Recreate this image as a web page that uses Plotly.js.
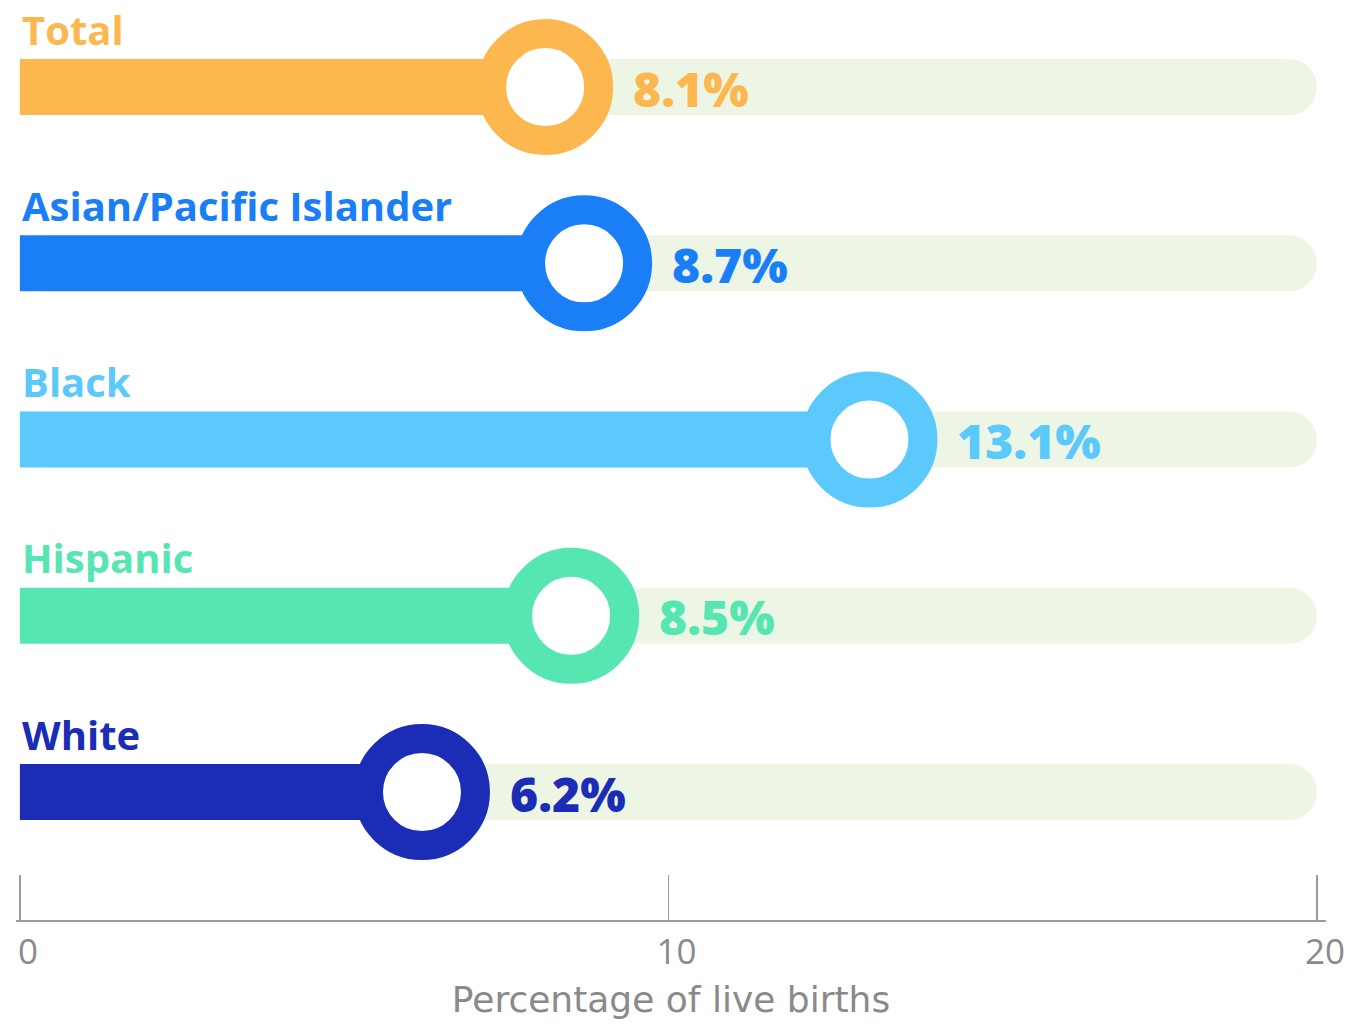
<!DOCTYPE html>
<html>
<head>
<meta charset="utf-8">
<script src="https://cdn.plot.ly/plotly-3.0.1.min.js"></script>
<style>
html,body{margin:0;padding:0;background:#fff;}
#chart{width:1370px;height:1024px;}
</style>
</head>
<body>
<div id="chart"></div>
<script>
// Data
const categories = ["Total", "Asian/Pacific Islander", "Black", "Hispanic", "White"];
const values = [8.1, 8.7, 13.1, 8.5, 6.2];
const valueLabels = ["8.1%", "8.7%", "13.1%", "8.5%", "6.2%"];
const scaleMax = 20;
const tickValues = [0, 10, 20];
const tickLabels = ["0", "10", "20"];
const axisTitle = "Percentage of live births";

// Styles
const colors = ["#FDB74F", "#1A7FF6", "#5BC9FC", "#56E6B2", "#1B2CB6"];
const trackColor = "#EDF5E4";
const barWidth = 0.318;

const traces = [
  {
    type: "bar", orientation: "h",
    y: categories, x: categories.map(() => scaleMax), base: 0,
    width: barWidth,
    marker: {color: trackColor, cornerradius: 28},
    hoverinfo: "skip", showlegend: false
  },
  {
    type: "bar", orientation: "h",
    y: categories, x: values, base: 0,
    width: barWidth,
    marker: {color: colors},
    hoverinfo: "skip", showlegend: false
  },
  {
    type: "scatter", mode: "markers",
    y: categories, x: values,
    marker: {size: 107, color: "#ffffff", line: {width: 29, color: colors}, opacity: 1},
    cliponaxis: false,
    hoverinfo: "skip", showlegend: false
  }
];

const annotations = [];
categories.forEach((c, i) => {
  annotations.push({
    xref: "paper", x: 0, xanchor: "left", xshift: 4,
    yref: "y", y: c, yanchor: "middle", yshift: 58,
    text: c, showarrow: false,
    font: {family: "Open Sans, sans-serif", size: 40, weight: 700, color: colors[i]}
  });
  annotations.push({
    xref: "x", x: values[i], xanchor: "left", xshift: 86,
    yref: "y", y: c, yanchor: "middle", yshift: -1,
    text: valueLabels[i], showarrow: false,
    font: {family: "Open Sans, sans-serif", size: 48, weight: 800, color: colors[i]}
  });
});

const layout = {
  width: 1370, height: 1024,
  paper_bgcolor: "#ffffff", plot_bgcolor: "#ffffff",
  margin: {l: 16, r: 44, t: 0, b: 104},
  barmode: "overlay",
  showlegend: false,
  xaxis: {
    range: [-0.06, 20.14],
    tickvals: tickValues, ticktext: tickLabels,
    ticks: "inside", ticklen: 45, tickwidth: 1.5, tickcolor: "#9a9a9a",
    showline: true, linecolor: "#9a9a9a", linewidth: 1.5,
    showgrid: false, zeroline: false,
    ticklabelshift: 8,
    tickfont: {family: "Open Sans, sans-serif", size: 35, color: "#8a8a8a"},
    title: {text: axisTitle, standoff: 14, font: {family: "DejaVu Sans, sans-serif", size: 36, color: "#8a8a8a"}},
    fixedrange: true
  },
  yaxis: {
    type: "category",
    categoryorder: "array", categoryarray: categories,
    range: [4.726, -0.494],
    showticklabels: false, showgrid: false, zeroline: false, showline: false,
    fixedrange: true
  },
  annotations: annotations
};

Plotly.newPlot("chart", traces, layout, {staticPlot: true, displayModeBar: false});
</script>
</body>
</html>
